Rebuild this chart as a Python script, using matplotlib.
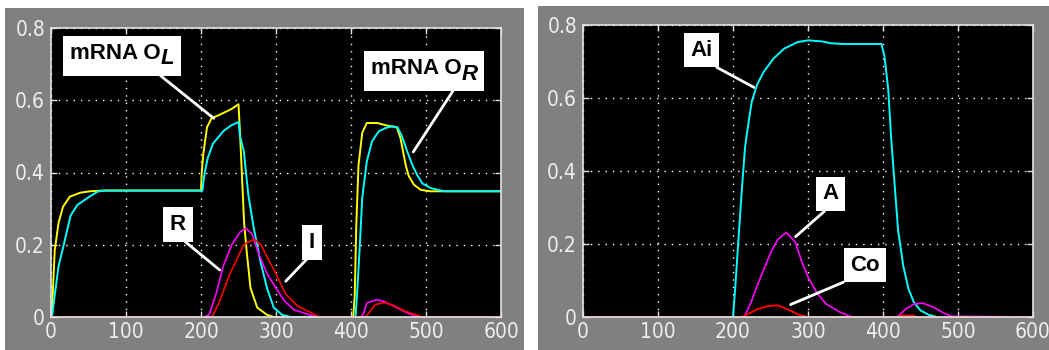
import matplotlib
matplotlib.use('Agg')
import matplotlib.pyplot as plt
import matplotlib.font_manager as fm
from matplotlib.patches import Rectangle
from matplotlib.offsetbox import TextArea, HPacker, VPacker, DrawingArea, AnnotationBbox

# left panel: mRNA O_L (yellow), mRNA O_R (cyan), R (magenta), I (red)
yellow_t = [0, 1, 5, 10, 16, 25, 39, 52, 70, 200, 201, 203, 208, 214, 225, 240, 250, 252, 254,
            257.5, 261, 266, 275, 288, 297, 403, 405, 407, 410, 415, 421, 435, 448, 461, 466,
            473, 477, 484, 493, 506, 600]
yellow_v = [0, 0.005, 0.185, 0.26, 0.305, 0.333, 0.344, 0.348, 0.35, 0.35, 0.40, 0.45, 0.525, 0.55,
            0.56, 0.575, 0.589, 0.51, 0.42, 0.26, 0.18, 0.08, 0.026, 0.006, 0, 0, 0.06, 0.25, 0.42,
            0.51, 0.537, 0.537, 0.53, 0.525, 0.495, 0.42, 0.39, 0.366, 0.352, 0.348, 0.348]

cyan_t = [0, 2, 4, 10, 17, 26, 35, 49, 62, 71, 202, 203, 205, 209, 216, 230, 240, 250, 252, 257,
          263, 270, 279, 288, 297, 308, 320, 406, 408, 411, 415, 421, 428, 437, 446, 455, 462, 468,
          475, 482, 488, 495, 506, 524, 600]
cyan_v = [0, 0.01, 0.045, 0.14, 0.2, 0.28, 0.31, 0.33, 0.347, 0.35, 0.35, 0.37, 0.4, 0.44, 0.48,
          0.515, 0.53, 0.54, 0.5, 0.46, 0.34, 0.25, 0.156, 0.08, 0.026, 0.006, 0, 0, 0.06, 0.17,
          0.33, 0.43, 0.486, 0.514, 0.523, 0.528, 0.525, 0.5, 0.458, 0.42, 0.394, 0.37, 0.357,
          0.348, 0.348]

r_t = [0, 205, 211, 220, 229.5, 241, 252, 260, 268, 277, 288, 300, 311, 324, 343, 356, 413, 417,
       421, 435, 444, 457, 475, 490, 600]
r_v = [0, 0, 0.007, 0.063, 0.14, 0.2, 0.235, 0.245, 0.23, 0.175, 0.12, 0.08, 0.045, 0.02, 0.007,
       0, 0, 0.01, 0.039, 0.048, 0.043, 0.03, 0.011, 0, 0]

i_t = [0, 212, 216, 225, 238.6, 257, 265, 272, 280, 288, 300, 313, 329, 347, 358, 418, 421, 432,
       444, 457, 471, 488, 495, 600]
i_v = [0, 0, 0.005, 0.045, 0.12, 0.2, 0.21, 0.214, 0.2, 0.166, 0.12, 0.063, 0.03, 0.012, 0, 0,
       0.003, 0.034, 0.04, 0.032, 0.017, 0.005, 0, 0]

# right panel: Ai (cyan), A (magenta), Co (red)
ai_t = [0, 200, 203, 207.4, 212, 216, 221, 225, 232, 241, 254, 268, 286, 300, 319, 330, 346, 398,
        402, 407, 411, 416, 420, 427, 434, 441, 450, 461, 472, 600]
ai_v = [0, 0, 0.08, 0.217, 0.355, 0.464, 0.537, 0.59, 0.636, 0.672, 0.708, 0.735, 0.753, 0.758,
        0.755, 0.75, 0.748, 0.748, 0.714, 0.623, 0.486, 0.35, 0.24, 0.14, 0.077, 0.041, 0.018,
        0.006, 0, 0]

a_t = [0, 215, 224, 233, 242, 251, 260, 271, 283, 292, 301, 312.6, 324, 342, 355, 360, 419, 431,
       442, 453, 467, 480, 491, 600]
a_v = [0, 0, 0.04, 0.09, 0.135, 0.18, 0.213, 0.232, 0.205, 0.15, 0.105, 0.064, 0.036, 0.014,
       0.003, 0, 0, 0.023, 0.036, 0.038, 0.027, 0.012, 0.002, 0]

co_t = [0, 212, 220, 233, 246.6, 260, 273.5, 288, 299, 420, 425, 440, 445, 600]
co_v = [0, 0, 0.008, 0.022, 0.03, 0.032, 0.02, 0.006, 0, 0, 0.004, 0.004, 0, 0]

x_ticks = [0, 100, 200, 300, 400, 500, 600]
y_ticks = [0, 0.2, 0.4, 0.6, 0.8]
y_labels = ['0', '0.2', '0.4', '0.6', '0.8']

W, H = 1049, 350
fig = plt.figure(figsize=(W / 100, H / 100), dpi=100, facecolor='white')

# grey window backgrounds
for x0, w, h in [(5, 519, 342), (538, 511, 344)]:
    fig.patches.append(Rectangle((x0 / W, 0), w / W, h / H, transform=fig.transFigure,
                                 facecolor='#808080', edgecolor='none', zorder=-1))

ax_l = fig.add_axes([51 / W, 33 / H, 450 / W, 289 / H])
ax_r = fig.add_axes([583 / W, 33 / H, 450 / W, 292 / H])


# narrow font for tick numbers if one is installed, else Liberation Sans
def narrow_font():
    found = []
    for f in fm.fontManager.ttflist:
        narrow = ('Narrow' in f.name or 'Condensed' in f.name
                  or str(f.stretch) in ('condensed', 'semi-condensed'))
        regular = str(f.weight) in ('400', 'normal', 'regular', 'book')
        if narrow and regular and f.style == 'normal':
            found.append(f)
    found.sort(key=lambda f: (0 if 'Liberation' in f.name else 1 if 'DejaVu Sans' in f.name else 2))
    if found:
        return fm.FontProperties(fname=found[0].fname, size=15)
    return fm.FontProperties(family='Liberation Sans', size=15)


tick_prop = narrow_font()


def style(ax):
    ax.set_facecolor('black')
    ax.set_xlim(0, 600)
    ax.set_ylim(0, 0.8)
    ax.set_xticks(x_ticks)
    ax.set_xticklabels([str(v) for v in x_ticks], fontproperties=tick_prop)
    ax.set_yticks(y_ticks)
    ax.set_yticklabels(y_labels, fontproperties=tick_prop)
    ax.grid(True, color='white', linestyle=(0, (1, 4.3)), linewidth=1)
    ax.tick_params(direction='in', length=4, width=1, color='#e0e0e0', top=True, right=True,
                   labelcolor='#eeeeee')
    ax.tick_params(axis='x', pad=3.6)
    ax.tick_params(axis='y', pad=4.3)
    for s in ax.spines.values():
        s.set_color('#e4e4e4')
        s.set_linewidth(1.2)


def label(ax, main, xy, xybox, relpos, italic=None):
    tp = dict(color='black', fontsize=16, fontweight='bold', fontfamily='Liberation Sans')
    parts = [TextArea(main, textprops=tp)]
    if italic:
        sub = TextArea(italic, textprops=dict(tp, fontstyle='italic'))
        parts.append(VPacker(children=[DrawingArea(1, 4), sub], pad=0, sep=0))
    box = HPacker(children=parts, align='top', pad=0, sep=0)
    ab = AnnotationBbox(box, xy, xybox=xybox, xycoords='data', boxcoords='data',
                        box_alignment=(0.5, 0.5), pad=0.3, fontsize=16,
                        bboxprops=dict(facecolor='white', edgecolor='none', boxstyle='square'),
                        arrowprops=dict(arrowstyle='-', color='white', lw=2, shrinkA=0,
                                        shrinkB=0, relpos=relpos),
                        annotation_clip=False)
    ax.add_artist(ab)


style(ax_l)
ax_l.plot(yellow_t, yellow_v, color='#ffff00', lw=1.4)
ax_l.plot(cyan_t, cyan_v, color='#00ffff', lw=1.4)
ax_l.plot(r_t, r_v, color='#ff00ff', lw=1.2)
ax_l.plot(i_t, i_v, color='#ff0000', lw=1.2)

label(ax_l, 'mRNA O', (217, 0.55), (94.7, 0.723), (0.79, 0), italic='L')
label(ax_l, 'mRNA O', (483, 0.457), (497.3, 0.68), (0.81, 0), italic='R')
label(ax_l, 'R', (225, 0.13), (169.3, 0.256), (0.44, 0))
label(ax_l, 'I', (313, 0.099), (348, 0.206), (0.6, 0))

style(ax_r)
ax_r.plot(ai_t, ai_v, color='#00ffff', lw=1.4)
ax_r.plot(a_t, a_v, color='#ff00ff', lw=1.2)
ax_r.plot(co_t, co_v, color='#ff0000', lw=1.4)

label(ax_r, 'Ai', (228, 0.629), (158, 0.731), (0.63, 0))
label(ax_r, 'A', (283.4, 0.22), (330, 0.337), (0.6, 0))
label(ax_r, 'Co', (276.7, 0.034), (376, 0.142), (0.29, 0))

fig.savefig('out.png', dpi=100, facecolor='white')
